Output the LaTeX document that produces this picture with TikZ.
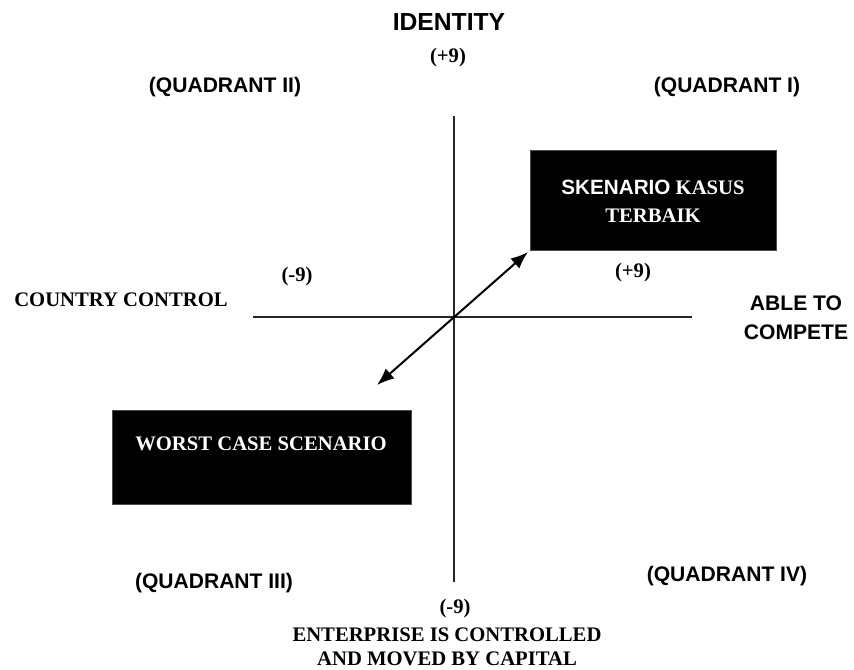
\documentclass[tikz,border=0pt]{standalone}
\usepackage{fontspec}
\setmainfont{Liberation Serif}
\newfontfamily\hsans{Liberation Sans}
\usetikzlibrary{arrows.meta}
\tikzset{
  sanslab/.style={font=\hsans\bfseries\fontsize{15.8}{18}\selectfont, inner sep=0pt},
  seriflab/.style={font=\bfseries\fontsize{15.5}{18}\selectfont, inner sep=0pt},
  blackbox/.style={fill=black, draw=black!70, line width=0.6pt},
  axis/.style={line width=1.1pt, draw=black!85},
  dblarrow/.style={line width=1.5pt, {Latex[length=13pt,width=10pt]}-{Latex[length=13pt,width=10pt]}}
}
\begin{document}
\begin{tikzpicture}[x=0.75pt,y=-0.75pt]
\useasboundingbox (0,0) rectangle (854,669);
% axes
\coordinate (vt) at (454,116);
\coordinate (vb) at (454,582);
\coordinate (hl) at (253,317);
\coordinate (hr) at (692,317);
\coordinate (o) at (454,317);
\draw[axis] (vt) -- (vb);
\draw[axis] (hl) -- (hr);
% boxes
\node[blackbox, minimum width=246*0.75pt, minimum height=100*0.75pt] (best) at (653,200) {};
\node[blackbox, minimum width=299*0.75pt, minimum height=94*0.75pt] (worst) at (261.5,457) {};
\node[seriflab, text=white, align=center] (bestt) at (653,201)
  {{\hsans SKENARIO} KASUS\\[3pt]TERBAIK};
\node[seriflab, text=white] (worstt) at (261,444) {WORST CASE SCENARIO};
% arrow
\coordinate (a1) at (377,385);
\coordinate (a2) at (528,252);
\draw[dblarrow] (a1) -- (a2);
% labels
\node[sanslab, font=\hsans\bfseries\fontsize{18.5}{20}\selectfont] (ident) at (449,22) {IDENTITY};
\node[seriflab] (p9t) at (448,58) {(+9)};
\node[sanslab] (q2) at (225,87) {(QUADRANT II)};
\node[sanslab] (q1) at (727,87) {(QUADRANT I)};
\node[seriflab] (m9l) at (297,277) {(-9)};
\node[seriflab] (p9r) at (633,273) {(+9)};
\node[seriflab] (cc) at (121,300) {COUNTRY CONTROL};
\node[sanslab, align=center] (able) at (796,318) {ABLE TO\\[4pt]COMPETE};
\node[sanslab] (q3) at (214,583) {(QUADRANT III)};
\node[sanslab] (q4) at (727,576) {(QUADRANT IV)};
\node[seriflab] (m9b) at (455,609) {(-9)};
\node[seriflab, align=center] (ent) at (447,647) {ENTERPRISE IS CONTROLLED\\AND MOVED BY CAPITAL};
\end{tikzpicture}
\end{document}
